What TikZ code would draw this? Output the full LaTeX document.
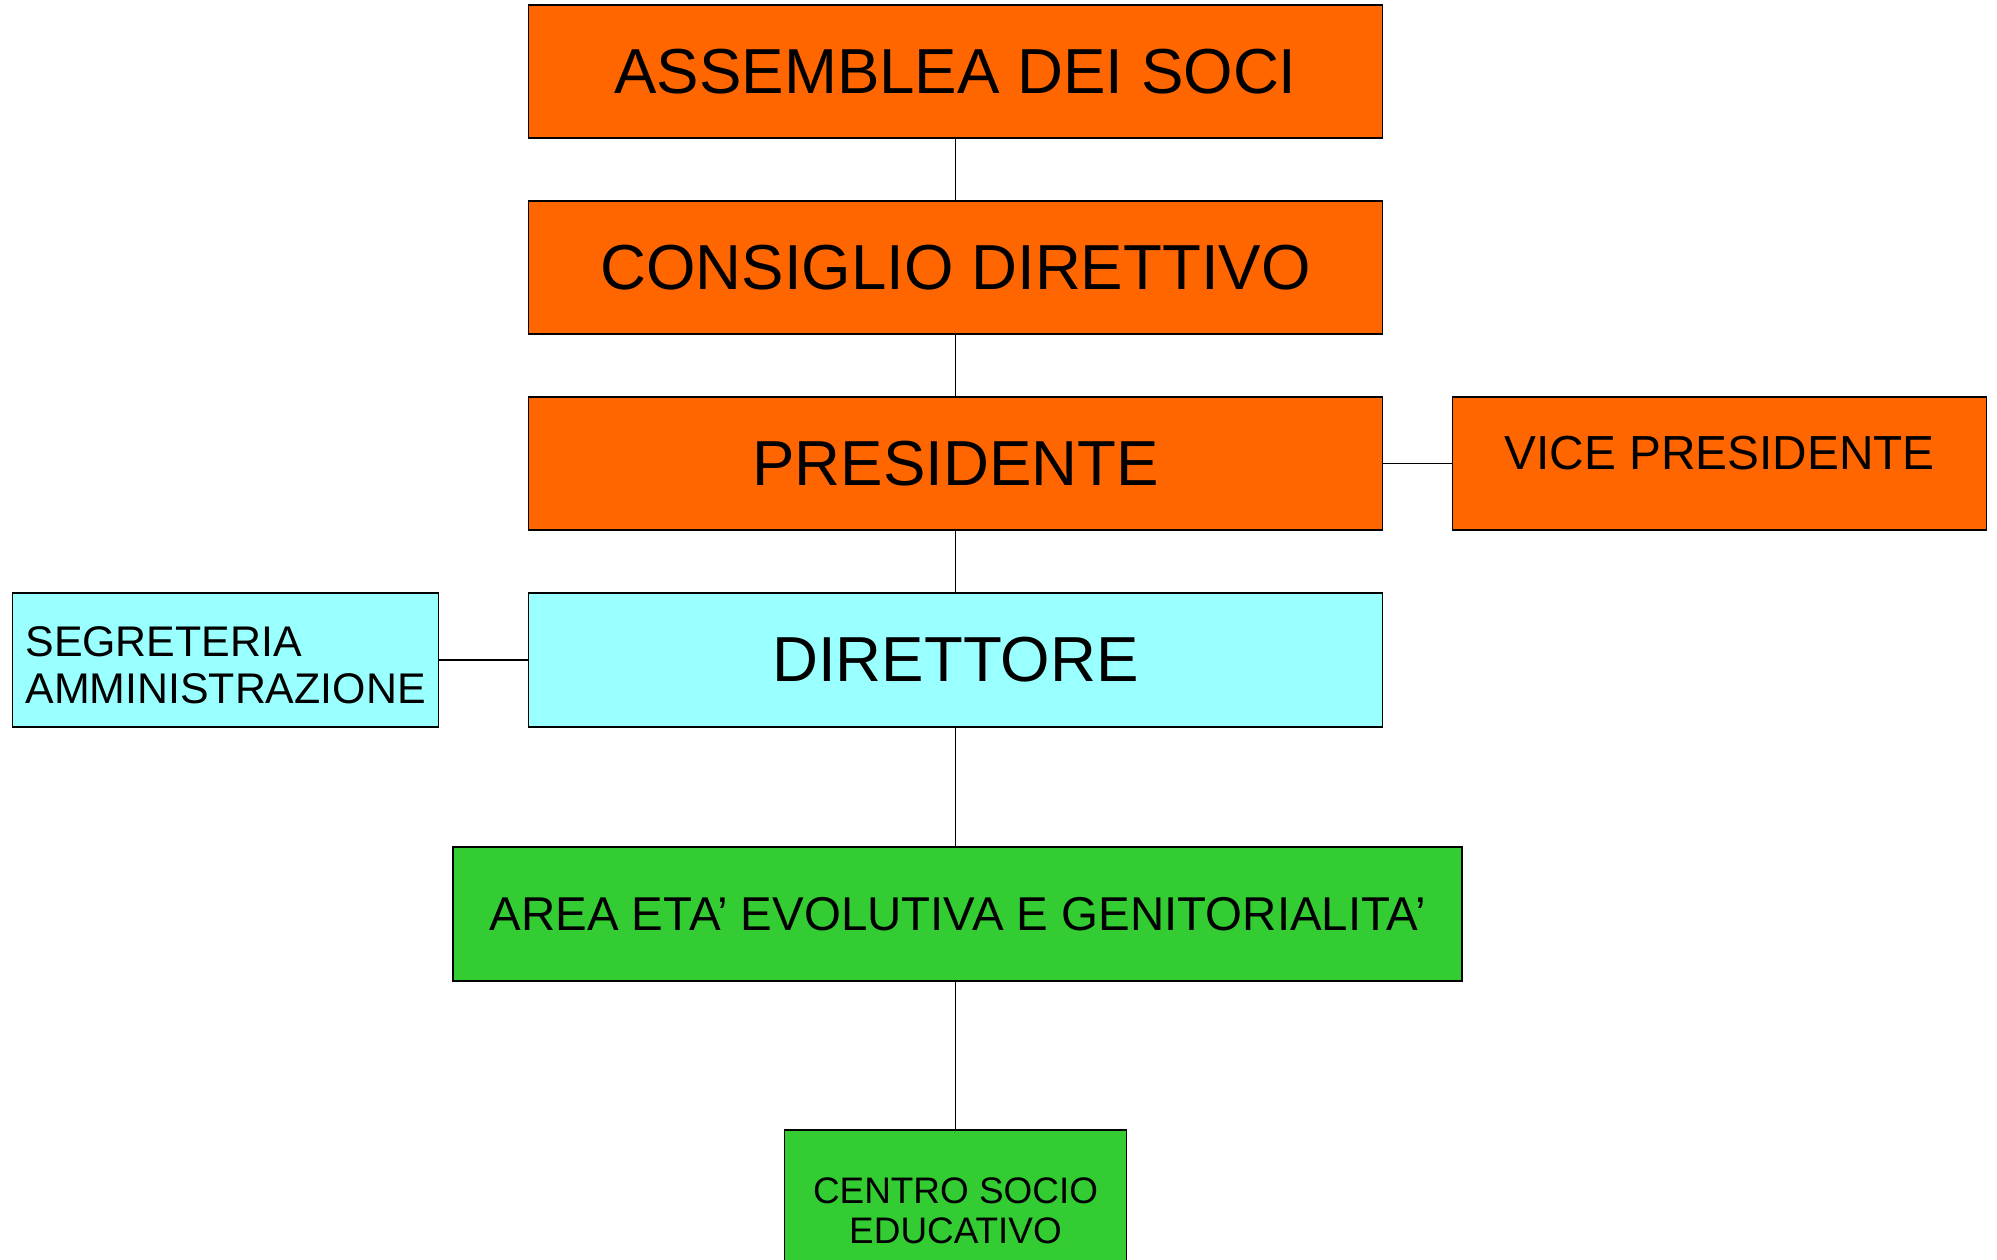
\documentclass[tikz,border=0pt]{standalone}
\usepackage{fontspec}
\setmainfont{Liberation Sans}
\usetikzlibrary{positioning}
\definecolor{boardorange}{HTML}{FF6600}
\definecolor{staffcyan}{HTML}{99FFFF}
\definecolor{areagreen}{HTML}{33CC33}
\tikzset {
  org node/.style = {
    draw = black,
    rectangle,
    inner sep = 0,
    outer sep = 0
  },
  % governing bodies
  board/.style = {
    org node,
    fill = boardorange,
    minimum width = 85.4mm,
    minimum height = 13.3mm,
    font = \fontsize{18.1}{21}\selectfont
  },
  % direction and staff
  staff/.style = {
    org node,
    fill = staffcyan,
    minimum height = 13.4mm
  },
  % operative areas
  area/.style = {
    org node,
    fill = areagreen
  },
  link/.style = {
    draw = black
  },
  node distance = 6.3mm
}
\begin{document}
\begin{tikzpicture}[x=0.1mm, y=-0.1mm]
    \useasboundingbox (0,0) rectangle (1997,1259);
    \clip (0,0) rectangle (1997,1259);

    \node[board] (assemblea) at (955.5,71.5) {ASSEMBLEA DEI SOCI};
    \node[board] (consiglio) [below=of assemblea] {CONSIGLIO DIRETTIVO};
    \node[board] (presidente) [below=of consiglio] {PRESIDENTE};
    \node[board, minimum width=53.4mm, text depth=2.2mm,
      font=\fontsize{13.6}{16}\selectfont] (vice) [right=7mm of presidente] {VICE PRESIDENTE};
    \node[staff, minimum width=85.4mm, font=\fontsize{18.1}{21}\selectfont]
      (direttore) [below=of presidente] {DIRETTORE};
    \node[staff, minimum width=42.6mm, align=left, text height=8.7mm,
      font=\fontsize{12.2}{13.3}\selectfont] (segreteria) [left=9mm of direttore] {SEGRETERIA\\AMMINISTRAZIONE};
    \node[area, minimum width=100.9mm, minimum height=13.4mm,
      font=\fontsize{13.5}{16}\selectfont] (area-eta) [below=12mm of direttore, xshift=0.2mm] {AREA ETA’ EVOLUTIVA E GENITORIALITA’};
    \coordinate (area-top) at (area-eta.north -| direttore.south);
    \node[area, minimum width=34.2mm, minimum height=16.2mm, align=center,
      font=\fontsize{10.5}{11.4}\selectfont] (centro) [below=14.9mm of area-eta, xshift=-0.2mm] {CENTRO SOCIO\\EDUCATIVO};

    \draw[link] (assemblea) -- (consiglio);
    \draw[link] (consiglio) -- (presidente);
    \draw[link] (presidente) -- (direttore);
    \draw[link] (presidente) -- (vice);
    \draw[link] (segreteria) -- (direttore);
    \draw[link] (direttore) -- (area-top);
    \draw[link] (area-eta.south -| centro.north) -- (centro);
  \end{tikzpicture}
\end{document}
